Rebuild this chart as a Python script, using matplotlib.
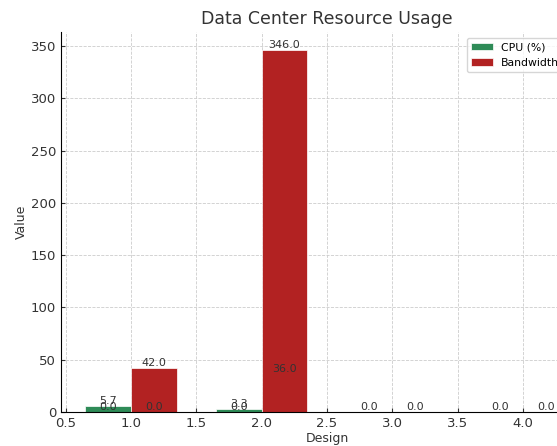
import matplotlib
matplotlib.use("Agg")
import matplotlib.pyplot as plt
import numpy as np

designs = [1, 2, 3, 4]
cpu = [5.7, 3.3, 0.0, 0.0]
bandwidth = [42.0, 346.0, 0.0, 0.0]
cpu_extra = [0.0, 0.0, 0.0, 0.0]
bw_extra = [0.0, 36.0, 0.0, 0.0]

fig = plt.figure(figsize=(5.57, 4.46), dpi=100)
ax = fig.add_axes([61/557, 34/446, (593-61)/557, (414-34)/446])

x = np.array(designs, dtype=float)
w = 0.35
ax.bar(x - w/2, cpu, w, color="#2E8B57", label="CPU (%)", edgecolor="white", linewidth=0.5, zorder=2)
ax.bar(x + w/2, bandwidth, w, color="#B22222", label="Bandwidth", edgecolor="white", linewidth=0.5, zorder=2)

tc = "#333333"
for xi, v in zip(x - w/2, cpu):
    if v > 0:
        ax.text(xi, v, f"{v:.1f}", ha="center", va="bottom", fontsize=8, color=tc, zorder=3)
for xi, v in zip(x + w/2, bandwidth):
    if v > 0:
        ax.text(xi, v, f"{v:.1f}", ha="center", va="bottom", fontsize=8, color=tc, zorder=3)
for xi, v in zip(x - w/2, cpu_extra):
    ax.text(xi, v, f"{v:.1f}", ha="center", va="bottom", fontsize=8, color=tc, zorder=3)
for xi, v in zip(x + w/2, bw_extra):
    ax.text(xi, v, f"{v:.1f}", ha="center", va="bottom", fontsize=8, color=tc, zorder=3)

ax.set_title("Data Center Resource Usage", fontsize=12.5, color=tc, pad=6)
ax.set_xlabel("Design", fontsize=9, color=tc, labelpad=1.5)
ax.set_ylabel("Value", fontsize=9, color=tc, labelpad=2)
ax.tick_params(labelsize=9.5, colors=tc, direction="in", length=3, pad=3.5)
ax.grid(True, linestyle="--", color="#cccccc", linewidth=0.6, zorder=0)
ax.set_axisbelow(True)
for s in ["top", "right"]:
    ax.spines[s].set_visible(False)
ax.legend(loc="upper left", bbox_to_anchor=(467/557, 1 - 38/446), bbox_transform=fig.transFigure,
          borderaxespad=0, fontsize=7.8, handletextpad=0.7)

fig.savefig("out.png", dpi=100)
